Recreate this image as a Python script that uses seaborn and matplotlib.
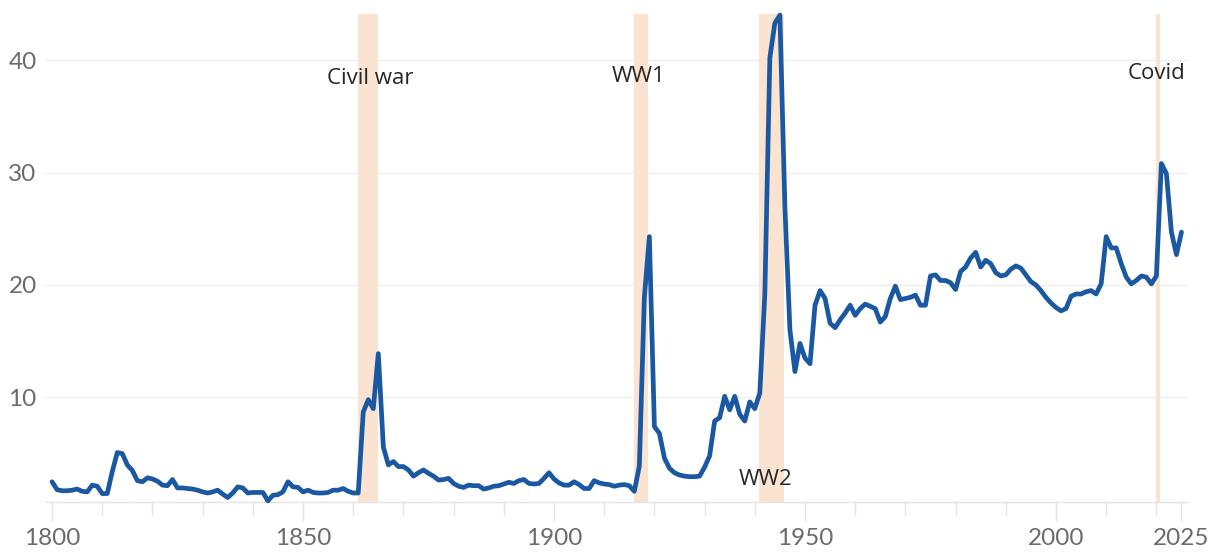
import numpy as np
import pandas as pd
import seaborn as sns
import matplotlib.pyplot as plt

sns.set_style("white")
plt.rcParams['font.family'] = ['Lato', 'DejaVu Sans']

# values, one per year 1800-2025
years = list(range(1800, 2026))
values = [
    # 1800-1849
    2.5, 1.8, 1.7, 1.7, 1.75, 1.85, 1.65, 1.6, 2.2, 2.1,
    1.45, 1.45, 3.4, 5.1, 5.0, 4.0, 3.5, 2.6, 2.5, 2.85,
    2.75, 2.55, 2.2, 2.15, 2.7, 1.95, 1.95, 1.9, 1.85, 1.75,
    1.6, 1.5, 1.6, 1.75, 1.4, 1.1, 1.5, 2.05, 1.95, 1.5,
    1.55, 1.55, 1.55, 0.8, 1.3, 1.35, 1.6, 2.5, 2.05, 2.0,
    # 1850-1899
    1.6, 1.75, 1.55, 1.5, 1.5, 1.55, 1.75, 1.75, 1.9, 1.65,
    1.5, 1.5, 8.7, 9.8, 9.0, 13.9, 5.6, 4.0, 4.3, 3.85,
    3.85, 3.55, 3.0, 3.3, 3.55, 3.25, 3.0, 2.65, 2.7, 2.8,
    2.35, 2.1, 2.0, 2.2, 2.15, 2.15, 1.85, 1.95, 2.1, 2.15,
    2.3, 2.45, 2.35, 2.6, 2.7, 2.35, 2.3, 2.35, 2.8, 3.3,
    # 1900-1949
    2.75, 2.4, 2.2, 2.2, 2.5, 2.25, 1.9, 1.9, 2.6, 2.4,
    2.3, 2.25, 2.1, 2.2, 2.25, 2.15, 1.65, 3.9, 18.9, 24.3,
    7.4, 6.8, 4.6, 3.7, 3.3, 3.1, 3.0, 2.95, 2.95, 3.0,
    3.8, 4.8, 7.9, 8.2, 10.1, 8.9, 10.1, 8.5, 7.9, 9.6,
    9.0, 10.4, 19.2, 40.2, 43.3, 44.0, 26.9, 16.0, 12.3, 14.8,
    # 1950-1999
    13.5, 13.0, 18.2, 19.5, 18.8, 16.6, 16.2, 16.9, 17.5, 18.2,
    17.3, 17.9, 18.3, 18.1, 17.9, 16.7, 17.2, 18.8, 19.9, 18.7,
    18.8, 18.9, 19.1, 18.2, 18.2, 20.8, 20.9, 20.4, 20.4, 20.2,
    19.6, 21.2, 21.6, 22.4, 22.9, 21.6, 22.2, 21.9, 21.1, 20.8,
    20.9, 21.4, 21.7, 21.5, 20.9, 20.3, 20.0, 19.5, 18.9, 18.4,
    # 2000-2025
    18.0, 17.7, 17.9, 19.0, 19.2, 19.2, 19.4, 19.5, 19.2, 20.1,
    24.3, 23.3, 23.3, 21.9, 20.7, 20.1, 20.4, 20.8, 20.7, 20.1,
    20.8, 30.8, 29.9, 24.7, 22.7, 24.7,
]

events = ["Civil war", "WW1", "WW2", "Covid"]
event_start = [1861, 1915.9, 1940.9, 2020.0]
event_end = [1865, 1918.8, 1945.8, 2020.8]
label_x = [1863.3, 1916.9, 1942.1, 2020.1]
label_y = [38.35, 38.5, 2.7, 38.8]

tick_years = [1800, 1850, 1900, 1950, 2000, 2025]

df = pd.DataFrame({"year": years, "value": values})

fig = plt.figure(figsize=(12.11, 5.54), dpi=100)
ax = fig.add_axes([45 / 1211, 52 / 554, 1143 / 1211, 488 / 554])

for s, e in zip(event_start, event_end):
    ax.axvspan(s, e, color="#FBE3D2", lw=0, zorder=1)

sns.lineplot(data=df, x="year", y="value", color="#1A58A2", linewidth=3.4,
             ax=ax, zorder=3, clip_on=False)

for name, x, y in zip(events, label_x, label_y):
    ax.text(x, y, name, ha="center", va="center", fontsize=16, color="#262626",
            family=["Open Sans", "DejaVu Sans"], zorder=4)

ax.set_xlim(1798.6, 2026.3)
ax.set_ylim(0.7, 44.1)
ax.set_yticks([10, 20, 30, 40])
ax.set_xticks(tick_years)
ax.set_xticklabels([str(t) for t in tick_years])
ax.set_xticks(list(range(1810, 2030, 10)), minor=True)

ax.grid(axis="y", color="#EFEFEF", linewidth=1, zorder=0)
ax.grid(axis="x", visible=False)
for side in ["top", "right", "left"]:
    ax.spines[side].set_visible(False)
ax.spines["bottom"].set_color("#E3E3E3")
ax.spines["bottom"].set_linewidth(1)

ax.tick_params(axis="y", length=0, pad=6, labelsize=17.5, labelcolor="#6B6B6B")
ax.tick_params(axis="x", which="major", length=14, width=1, color="#E3E3E3",
               pad=5, labelsize=17.5, labelcolor="#6B6B6B", bottom=True)
ax.tick_params(axis="x", which="minor", length=9.5, width=1, color="#E3E3E3", bottom=True)

ax.set_xlabel("")
ax.set_ylabel("")

plt.savefig("out.png", dpi=100)
